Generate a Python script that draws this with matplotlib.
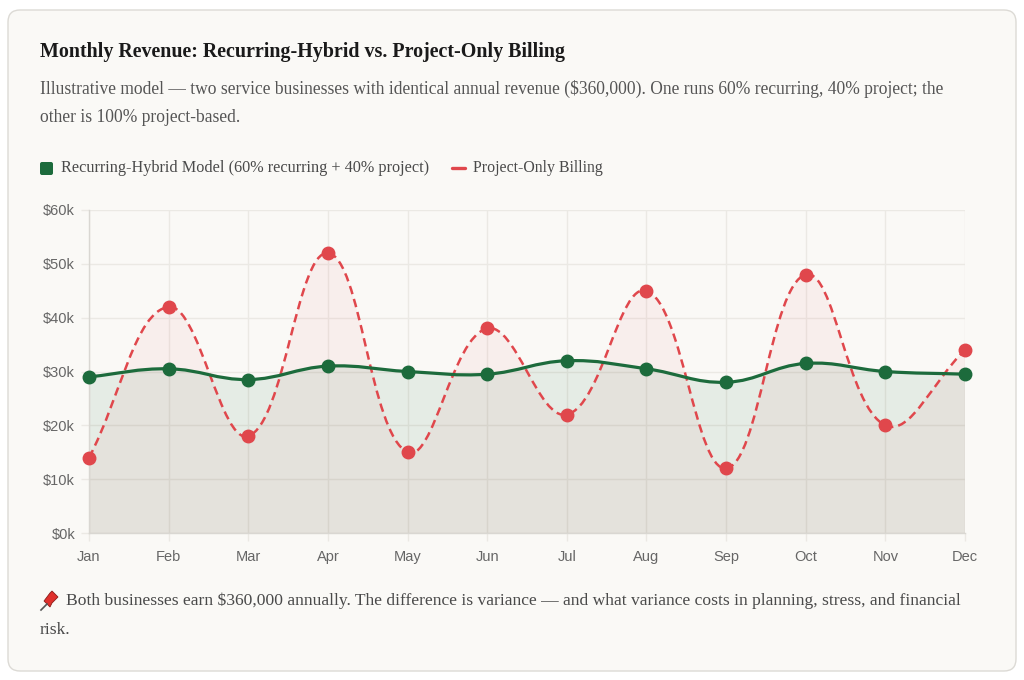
import numpy as np
import matplotlib
matplotlib.use("Agg")
import matplotlib.pyplot as plt
from matplotlib.path import Path
from matplotlib.patches import PathPatch, FancyBboxPatch, Polygon
from matplotlib.lines import Line2D
from matplotlib.ticker import FuncFormatter

# ---------------- data ----------------
months = ["Jan", "Feb", "Mar", "Apr", "May", "Jun", "Jul", "Aug", "Sep", "Oct", "Nov", "Dec"]
recurring = [29, 30.5, 28.5, 31, 30, 29.5, 32, 30.5, 28, 31.5, 30, 29.5]   # $k
project = [14, 42, 18, 52, 15, 38, 22, 45, 12, 48, 20, 34]                 # $k
y_ticks = [0, 10, 20, 30, 40, 50, 60]

title = "Monthly Revenue: Recurring-Hybrid vs. Project-Only Billing"
sub1 = ("Illustrative model \u2014 two service businesses with identical annual revenue ($360,000). "
        "One runs 60% recurring, 40% project; the")
sub2 = "other is 100% project-based."
leg1 = "Recurring-Hybrid Model (60% recurring + 40% project)"
leg2 = "Project-Only Billing"
foot1 = ("Both businesses earn $360,000 annually. The difference is variance \u2014 and what variance "
         "costs in planning, stress, and financial")
foot2 = "risk."

GREEN = "#1c6b3c"
RED = "#e0474c"
W, H = 1024, 680

fig = plt.figure(figsize=(W / 100, H / 100), dpi=100)
fig.patch.set_facecolor("white")

# card
card = FancyBboxPatch((0.08, (H - 671) / 100), 10.08, 6.61,
                      boxstyle="round,pad=0,rounding_size=0.12",
                      transform=fig.dpi_scale_trans, fc="#faf9f6", ec="#dcdad5", lw=1.0, zorder=-5)
fig.patches.append(card)

def P(x, y):
    return (x / W, 1 - y / H)

renderer = fig.canvas.get_renderer()

def fit_text(x, y, s, target_w, size, **kw):
    t = fig.text(*P(x, y), s, fontsize=size, va="center", ha="left", **kw)
    w = t.get_window_extent(renderer).width
    t.set_fontsize(size * target_w / w)
    return t

SERIF = ["Liberation Serif", "DejaVu Serif"]
fit_text(40, 52, title, 525, 12, family=SERIF, fontweight="bold", color="#1a1a1a")
t1 = fit_text(40, 89, sub1, 903, 10, family=SERIF, color="#555555")
fig.text(*P(40, 118), sub2, fontsize=t1.get_fontsize(), va="center", ha="left", family=SERIF, color="#555555")

# legend
fig.patches.append(FancyBboxPatch((40 / 100, (H - 175) / 100), 0.13, 0.13,
                                  boxstyle="round,pad=0,rounding_size=0.02",
                                  transform=fig.dpi_scale_trans, fc=GREEN, ec="none"))
fit_text(61, 168, leg1, 370, 9.5, family=SERIF, color="#4a4a4a")
fig.lines.append(Line2D([452 / W, 465 / W], [1 - 168 / H, 1 - 168 / H], transform=fig.transFigure,
                        color=RED, lw=2.4, solid_capstyle="round"))
fit_text(473, 168, leg2, 130, 9.5, family=SERIF, color="#4a4a4a")

# footer
f1 = fit_text(66, 601, foot1, 896, 10, family=SERIF, color="#4a4a4a")
fig.text(*P(40, 630), foot2, fontsize=f1.get_fontsize(), va="center", ha="left", family=SERIF, color="#4a4a4a")
# pushpin pictogram
fig.lines.append(Line2D([41 / W, 47 / W], [1 - 610 / H, 1 - 604 / H], transform=fig.transFigure,
                        color="#555555", lw=1.2))
pin = Polygon([P(44, 601), P(50, 607), P(52, 603), P(56, 599), P(58, 597), P(52, 591), P(50, 593), P(47, 597)],
              closed=True, transform=fig.transFigure, fc="#e0302c", ec="#8a1c18", lw=0.6)
fig.patches.append(pin)

# ---------------- chart ----------------
ax_l, ax_r, ax_t, ax_b = 89, 965, 210, 533
ax = fig.add_axes([ax_l / W, 1 - ax_b / H, (ax_r - ax_l) / W, (ax_b - ax_t) / H])
ax.set_facecolor("none")
x = np.arange(len(months))
ax.set_xlim(0, len(months) - 1)
ax.set_ylim(y_ticks[0], y_ticks[-1])
sx = (ax_r - ax_l) / (len(months) - 1)
sy = (ax_b - ax_t) / (y_ticks[-1] - y_ticks[0])

def spline_path(xs, ys, t=0.4):
    px = np.asarray(xs, float) * sx
    py = np.asarray(ys, float) * sy
    n = len(px)
    cp_prev = [None] * n
    cp_next = [None] * n
    for i in range(n):
        a = i - 1 if i > 0 else i
        c = i + 1 if i < n - 1 else i
        d01 = np.hypot(px[i] - px[a], py[i] - py[a])
        d12 = np.hypot(px[c] - px[i], py[c] - py[i])
        s01 = d01 / (d01 + d12) if d01 + d12 else 0
        s12 = d12 / (d01 + d12) if d01 + d12 else 0
        fa, fb = t * s01, t * s12
        cp_prev[i] = (px[i] - fa * (px[c] - px[a]), py[i] - fa * (py[c] - py[a]))
        cp_next[i] = (px[i] + fb * (px[c] - px[a]), py[i] + fb * (py[c] - py[a]))
    verts = [(px[0], py[0])]
    codes = [Path.MOVETO]
    for i in range(1, n):
        verts += [cp_next[i - 1], cp_prev[i], (px[i], py[i])]
        codes += [Path.CURVE4] * 3
    verts = [(vx / sx, vy / sy) for vx, vy in verts]
    return verts, codes

def draw_series(vals, color, lw, ls, fill_alpha, z):
    verts, codes = spline_path(x, vals)
    fv = verts + [(x[-1], 0), (x[0], 0), (x[0], 0)]
    fc = codes + [Path.LINETO, Path.LINETO, Path.CLOSEPOLY]
    ax.add_patch(PathPatch(Path(fv, fc), fc=color, ec="none", alpha=fill_alpha, zorder=1))
    ax.add_patch(PathPatch(Path(verts, codes), fc="none", ec=color, lw=lw, ls=ls, zorder=z,
                           capstyle="butt"))
    ax.plot(x, vals, ls="none", marker="o", ms=9.0, mfc=color, mec=color, zorder=z + 0.5,
            clip_on=False)

draw_series(project, RED, 1.8, (0, (3.4, 2.0)), 0.06, 3)
draw_series(recurring, GREEN, 2.3, "-", 0.09, 4)

ax.set_xticks(x)
ax.set_xticklabels(months)
ax.set_yticks(y_ticks)
ax.yaxis.set_major_formatter(FuncFormatter(lambda v, p: f"${int(v)}k"))
ax.grid(True, color="#ebe9e4", lw=1.0, zorder=0)
ax.set_axisbelow(True)
for s in ["top", "right"]:
    ax.spines[s].set_visible(False)
for s in ["left", "bottom"]:
    ax.spines[s].set_color("#d9d7d2")
    ax.spines[s].set_linewidth(1.0)
ax.tick_params(axis="both", length=6, width=1, color="#ebe9e4", labelcolor="#666666",
               labelsize=10.5)
ax.tick_params(axis="y", pad=4)
ax.tick_params(axis="x", pad=14.5)
for lab in ax.get_xticklabels():
    lab.set_family(["Liberation Sans"])
    lab.set_verticalalignment("baseline")
for lab in ax.get_yticklabels():
    lab.set_family(["Liberation Sans"])

fig.savefig("out.png", dpi=100, facecolor="white")
